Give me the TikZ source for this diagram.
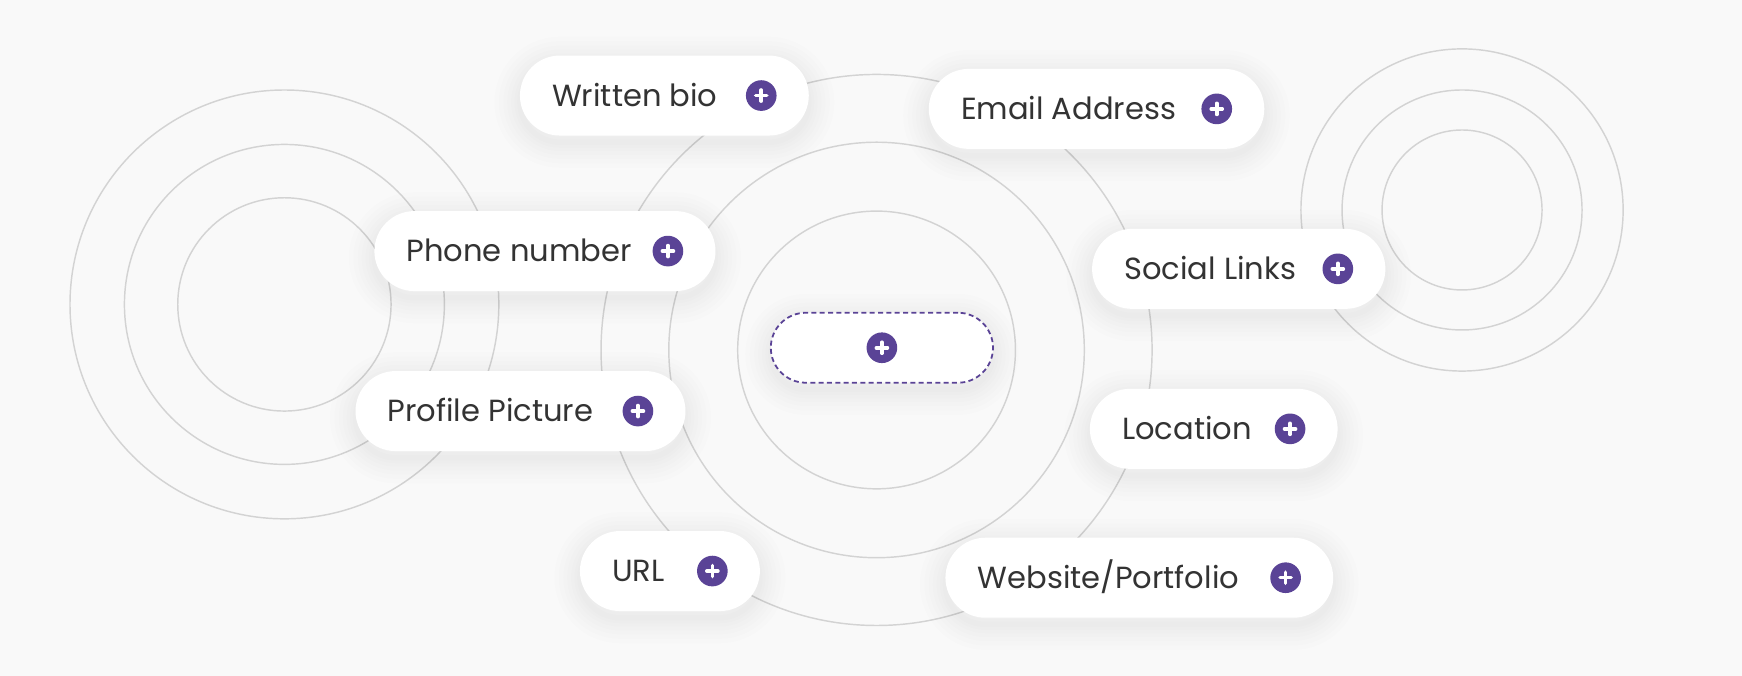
\documentclass[tikz,border=0pt]{standalone}
\usepackage{fontspec}
\setmainfont{Poppins}
\usetikzlibrary{positioning}
\definecolor{bgcol}{HTML}{F9F9F9}
\definecolor{ringgray}{HTML}{D3D3D3}
\definecolor{plum}{HTML}{5A4396}
\definecolor{ink}{HTML}{333333}

\begin{document}
\begin{tikzpicture}[x=1pt,y=-1pt,
		ring/.style={draw=ringgray,line width=1.3pt},
		halo/.style={preaction={draw=black,solid,draw opacity=0.008,line width=#1,
			transform canvas={yshift=-6pt}}},
		pill/.style={fill=white,rounded corners=#1,inner sep=0pt,
			halo=46pt,halo=38pt,halo=30pt,halo=23pt,halo=16pt,halo=10pt,halo=5pt},
		pill/.default=36pt,
		lbl/.style={inner sep=0pt,text height=19.5pt,text depth=0pt,text=ink,font=\fontsize{27.5}{32}\selectfont},
		plusbtn/.style={circle,fill=plum,minimum size=27.6pt,inner sep=0pt,
			path picture={
				\draw[white,line width=3.2pt,line cap=round]
				([xshift=-5pt]path picture bounding box.center) -- ([xshift=5pt]path picture bounding box.center)
				([yshift=-5pt]path picture bounding box.center) -- ([yshift=5pt]path picture bounding box.center);
			}}]
		\fill[bgcol] (0,0) rectangle (1568,608.4);
		\useasboundingbox (0,0) rectangle (1568,608.4);
		%
		\coordinate (cleft) at (256,274);
		\coordinate (cmid) at (789,315);
		\coordinate (cright) at (1316,189);
		\foreach \r in {96,144,193} \draw[ring] (cleft) circle (\r);
		\foreach \r in {125,187,248} \draw[ring] (cmid) circle (\r);
		\foreach \r in {72,108,145} \draw[ring] (cright) circle (\r);
		%
		\node[pill,minimum width=260pt,minimum height=72pt] (bio) at (598,86) {};
		\node[pill,minimum width=302pt,minimum height=72pt] (email) at (987,98) {};
		\node[pill,minimum width=307pt,minimum height=72pt] (phone) at (490.5,226) {};
		\node[pill,minimum width=264pt,minimum height=72pt] (social) at (1115,242) {};
		\node[pill,minimum width=297pt,minimum height=72pt] (profile) at (468.5,370) {};
		\node[pill,minimum width=223pt,minimum height=72pt] (location) at (1092.5,386) {};
		\node[pill,minimum width=162pt,minimum height=72pt] (url) at (603,514) {};
		\node[pill,minimum width=349pt,minimum height=72pt] (website) at (1025.5,520) {};
		\node[pill=31.5pt,minimum width=200pt,minimum height=63pt,draw=plum,line width=1.6pt,
			dash pattern=on 4.5pt off 3pt] (slot) at (793.8,313) {};
		%
		\node[lbl,right=29pt of bio.west] {Written bio};
		\node[lbl,right=29pt of email.west] {Email Address};
		\node[lbl,right=29pt of phone.west] {Phone number};
		\node[lbl,right=29pt of social.west] {Social Links};
		\node[lbl,right=29pt of profile.west] {Profile Picture};
		\node[lbl,right=29pt of location.west] {Location};
		\node[lbl,right=29pt of url.west] {URL};
		\node[lbl,right=29pt of website.west] {Website/Portfolio};
		%
		\foreach \p in {bio,email,phone,social,profile,location,url,website}
			\node[plusbtn,left=29pt of \p.east] {};
		\node[plusbtn] at (slot.center) {};
	\end{tikzpicture}
\end{document}
